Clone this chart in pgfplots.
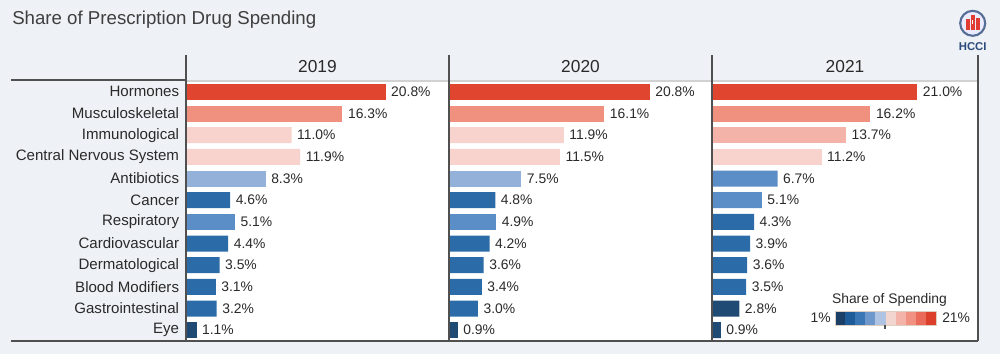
\documentclass[border=0pt]{standalone}
\usepackage{pgfplots}
\pgfplotsset{compat=1.18}
\usepackage{pgfplotstable}
\usepackage{fontspec}
\setmainfont{Liberation Sans}

\definecolor{bg}{HTML}{EEF1F5}
\definecolor{txt}{HTML}{2A2A2A}
\definecolor{frame}{HTML}{505050}
\definecolor{c0}{HTML}{1F4A74}
\definecolor{c1}{HTML}{2B6CA8}
\definecolor{c2}{HTML}{5B8DC7}
\definecolor{c3}{HTML}{94B1DA}
\definecolor{c4}{HTML}{F8D3CD}
\definecolor{c5}{HTML}{F4B3A8}
\definecolor{c6}{HTML}{F0917F}
\definecolor{c7}{HTML}{E0462F}
\definecolor{l1}{HTML}{1B3F66}
\definecolor{l2}{HTML}{1D5C99}
\definecolor{l3}{HTML}{3A76B5}
\definecolor{l4}{HTML}{6E97CB}
\definecolor{l5}{HTML}{AFC3E3}
\definecolor{l6}{HTML}{F3D5D0}
\definecolor{l7}{HTML}{F3B3A9}
\definecolor{l8}{HTML}{F09181}
\definecolor{l9}{HTML}{EA6A59}
\definecolor{l10}{HTML}{DC3F2B}
\definecolor{logoblue}{HTML}{2C4A7C}
\definecolor{logored}{HTML}{E03C31}

% y = row (0 = Hormones ... 11 = Eye), v = share (%), c = colour step
\pgfplotstableread{
y v c
0 20.8 7
1 16.3 6
2 11.0 4
3 11.9 4
4 8.3 3
5 4.6 1
6 5.1 2
7 4.4 1
8 3.5 1
9 3.1 1
10 3.2 1
11 1.1 0
}\dataA
\pgfplotstableread{
y v c
0 20.8 7
1 16.1 6
2 11.9 4
3 11.5 4
4 7.5 3
5 4.8 1
6 4.9 2
7 4.2 1
8 3.6 1
9 3.4 1
10 3.0 1
11 0.9 0
}\dataB
\pgfplotstableread{
y v c
0 21.0 7
1 16.2 6
2 13.7 5
3 11.2 4
4 6.7 2
5 5.1 2
6 4.3 1
7 3.9 1
8 3.6 1
9 3.5 1
10 2.8 0
11 0.9 0
}\dataC

\pgfplotsset{
  /pgf/number format/assume math mode=true,
  panel/.style={
    scale only axis, anchor=north west, height=195pt,
    xbar, bar width=12pt, bar shift=0pt,
    xmin=0, ymin=-0.5, ymax=11.5, y dir=reverse,
    axis line style={draw=none}, xtick=\empty, ytick={0,...,11}, yticklabels={},
    major tick length=0pt,
    axis background/.style={fill=white},
    clip=false, point meta=x,
    nodes near coords={\pgfmathprintnumber[fixed,fixed zerofill,precision=1]{\pgfplotspointmeta}\%},
    every node near coord/.append style={font=\fontsize{10.4}{12}\selectfont, text=txt, anchor=west, inner sep=0pt, xshift=4pt},
  },
}

\begin{document}
\begin{tikzpicture}
\path[use as bounding box, fill=bg] (0,0) rectangle (750pt,-265.5pt);

\begin{axis}[panel, at={(139.5pt,-60.75pt)}, width=197.25pt, xmax=27.4,
  yticklabels={Hormones,Musculoskeletal,Immunological,Central Nervous System,Antibiotics,Cancer,Respiratory,Cardiovascular,Dermatological,Blood Modifiers,Gastrointestinal,Eye},
  yticklabel style={font=\fontsize{11.3}{13}\selectfont, text=txt, anchor=east, inner sep=0pt, xshift=-5pt}]
\pgfplotsinvokeforeach{0,...,7}{
  \addplot[fill=c#1, draw=none, restrict expr to domain={\thisrow{c}}{#1:#1}] table[x=v,y=y]{\dataA};
}
\end{axis}

\begin{axis}[panel, at={(336.75pt,-60.75pt)}, width=197.25pt, xmax=27.25]
\pgfplotsinvokeforeach{0,...,7}{
  \addplot[fill=c#1, draw=none, restrict expr to domain={\thisrow{c}}{#1:#1}] table[x=v,y=y]{\dataB};
}
\end{axis}

\begin{axis}[panel, at={(534pt,-60.75pt)}, width=199.5pt, xmax=27.2]
\pgfplotsinvokeforeach{0,...,7}{
  \addplot[fill=c#1, draw=none, restrict expr to domain={\thisrow{c}}{#1:#1}] table[x=v,y=y]{\dataC};
}
\end{axis}

\begin{scope}[x=0.75pt, y=-0.75pt]
  % title
  \node[anchor=base west, inner sep=0pt, text=txt!90, font=\fontsize{14}{16}\selectfont] at (12,24) {Share of Prescription Drug Spending};
  % year headers
  \foreach \xx/\yr in {317.5/2019, 580.5/2020, 845/2021}
    \node[text=txt, font=\fontsize{13}{15}\selectfont, inner sep=0pt] at (\xx,67) {\yr};
  % panel top light line
  \draw[line width=1.2pt, color=black!18] (186,81) -- (978,81);
  % frame lines
  \draw[line width=1.1pt, color=frame] (11,80) -- (186,80);
  \draw[line width=1.1pt, color=frame] (11,341) -- (978,341);
  \foreach \xx in {186,449,712,978}
    \draw[line width=1.1pt, color=frame] (\xx,55) -- (\xx,341);
  % legend
  \node[text=txt, font=\fontsize{10.4}{12}\selectfont, anchor=base, inner sep=0pt] at (889.5,303) {Share of Spending};
  \foreach \i in {1,...,10}
    \fill[color=l\i] ({835+(\i-1)*10.1},311) rectangle ({835+\i*10.1},325);
  \draw[color=black!25!brown!30, line width=0.4pt] (835,311) rectangle (936,325);
  \draw[line width=0.8pt, color=frame] (885,325) -- (885,329);
  \node[text=txt, font=\fontsize{10.4}{12}\selectfont, anchor=east, inner sep=0pt] at (831,318) {1\%};
  \node[text=txt, font=\fontsize{10.4}{12}\selectfont, anchor=west, inner sep=0pt] at (942,318) {21\%};
  % logo
  \fill[white!92!blue] (972.7,23.3) circle (12.5);
  \draw[line width=1.6pt, color=logoblue!80] (972.7,23.3) circle (12.5);
  \fill[logored] (965.5,19) rectangle (969.5,30);
  \fill[logored] (970.5,15) rectangle (974.5,30);
  \fill[logored] (975.5,18) rectangle (979.5,30);
  \fill[white] (971.7,20) rectangle (973.3,24);
  \node[text=logoblue, font=\bfseries\fontsize{8.5}{10}\selectfont, inner sep=0pt] at (972.7,47) {HCCI};
\end{scope}
\end{tikzpicture}
\end{document}
